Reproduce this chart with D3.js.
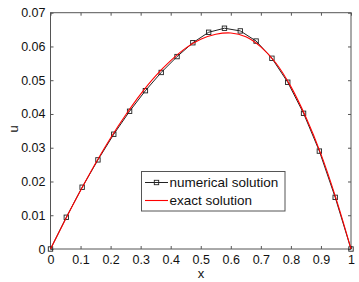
<!DOCTYPE html>
<html><head><meta charset="utf-8">
<script src="https://cdn.jsdelivr.net/npm/d3@7"></script>
<style>body{margin:0;background:#fff}svg{display:block}text{font-family:"Liberation Sans",Arial,sans-serif}</style>
</head><body><svg id="c" width="359" height="282"></svg>
<script>
const numX = [0,0.0526,0.1053,0.1579,0.2105,0.2632,0.3158,0.3684,0.4211,0.4737,0.5263,0.5789,0.6316,0.6842,0.7368,0.7895,0.8421,0.8947,0.9474,1];
const numU = [0,0.0094,0.0183,0.0264,0.0340,0.0408,0.0469,0.0523,0.0570,0.0611,0.0642,0.0654,0.0646,0.0616,0.0565,0.0494,0.0402,0.0290,0.0153,0];
const exX = [0,0.05,0.1,0.15,0.2,0.25,0.3,0.35,0.4,0.45,0.5,0.55,0.6,0.65,0.7,0.75,0.8,0.85,0.9,0.95,1];
const exU = [0,0.0088,0.0173,0.0254,0.0329,0.0397,0.0459,0.0513,0.0558,0.0595,0.0621,0.0636,0.0640,0.0629,0.0599,0.0551,0.0481,0.0390,0.0281,0.0150,0];
const xTicks = [0,0.1,0.2,0.3,0.4,0.5,0.6,0.7,0.8,0.9,1];
const yTicks = [0,0.01,0.02,0.03,0.04,0.05,0.06,0.07];
const legendLabels = ["numerical solution","exact solution"];

const svg = d3.select("#c");
const L=50.5, R=351, T=12.7, B=249;
const x = d3.scaleLinear().domain([0,1]).range([L,R]);
const y = d3.scaleLinear().domain([0,0.07]).range([B,T]);
const axisCol = "#555";
const fmt = d => d===0 ? "0" : (d===1 ? "1" : d3.format("")(+d.toFixed(2)));

// frame
svg.append("rect").attr("x",L).attr("y",T).attr("width",R-L).attr("height",B-T)
  .attr("fill","none").attr("stroke",axisCol).attr("stroke-width",1);

const gx = svg.append("g").attr("transform",`translate(0,${B})`)
  .call(d3.axisBottom(x).tickValues(xTicks).tickSize(-3).tickPadding(6).tickFormat(fmt));
const gxt = svg.append("g").attr("transform",`translate(0,${T})`)
  .call(d3.axisTop(x).tickValues(xTicks).tickSize(-3).tickFormat(""));
const gy = svg.append("g").attr("transform",`translate(${L},0)`)
  .call(d3.axisLeft(y).tickValues(yTicks).tickSize(-3).tickPadding(5).tickFormat(fmt));
const gyr = svg.append("g").attr("transform",`translate(${R},0)`)
  .call(d3.axisRight(y).tickValues(yTicks).tickSize(-3).tickFormat(""));
[gx,gxt,gy,gyr].forEach(g=>{
  g.select(".domain").remove();
  g.selectAll(".tick line").attr("stroke",axisCol);
  g.selectAll("text").attr("fill","#111").style("font-size","12.5px").style("font-family","Liberation Sans, Arial, sans-serif");
});

const lineN = d3.line().x((d,i)=>x(numX[i])).y(d=>y(d));
const lineE = d3.line().x((d,i)=>x(exX[i])).y(d=>y(d)).curve(d3.curveCatmullRom);

svg.append("path").datum(numU).attr("d",lineN).attr("fill","none").attr("stroke","#222").attr("stroke-width",1);
svg.selectAll(".mk").data(numU).enter().append("rect")
  .attr("x",(d,i)=>x(numX[i])-2.2).attr("y",d=>y(d)-2.2).attr("width",4.4).attr("height",4.4)
  .attr("fill","none").attr("stroke","#222").attr("stroke-width",0.9);
svg.append("path").datum(exU).attr("d",lineE).attr("fill","none").attr("stroke","#f00").attr("stroke-width",1.1);

// legend
const lg = svg.append("g");
lg.append("rect").attr("x",141.5).attr("y",171.5).attr("width",143.5).attr("height",39.5)
  .attr("fill","#fff").attr("stroke",axisCol).attr("stroke-width",1);
lg.append("line").attr("x1",145).attr("x2",168).attr("y1",182.5).attr("y2",182.5).attr("stroke","#222");
lg.append("rect").attr("x",154.3).attr("y",180.3).attr("width",4.4).attr("height",4.4).attr("fill","none").attr("stroke","#222").attr("stroke-width",0.9);
lg.append("line").attr("x1",145).attr("x2",168).attr("y1",200.5).attr("y2",200.5).attr("stroke","#f00").attr("stroke-width",1.1);
lg.selectAll("text").data(legendLabels).enter().append("text")
  .attr("x",169.5).attr("y",(d,i)=>187+i*18).text(d=>d)
  .attr("fill","#111").style("font-size","13.5px");

svg.append("text").attr("x",201).attr("y",278).attr("text-anchor","middle").style("font-size","13px").attr("fill","#111").text("x");
svg.append("text").attr("transform","translate(18,129) rotate(-90)").attr("text-anchor","middle").style("font-size","13px").attr("fill","#111").text("u");
</script></body></html>
